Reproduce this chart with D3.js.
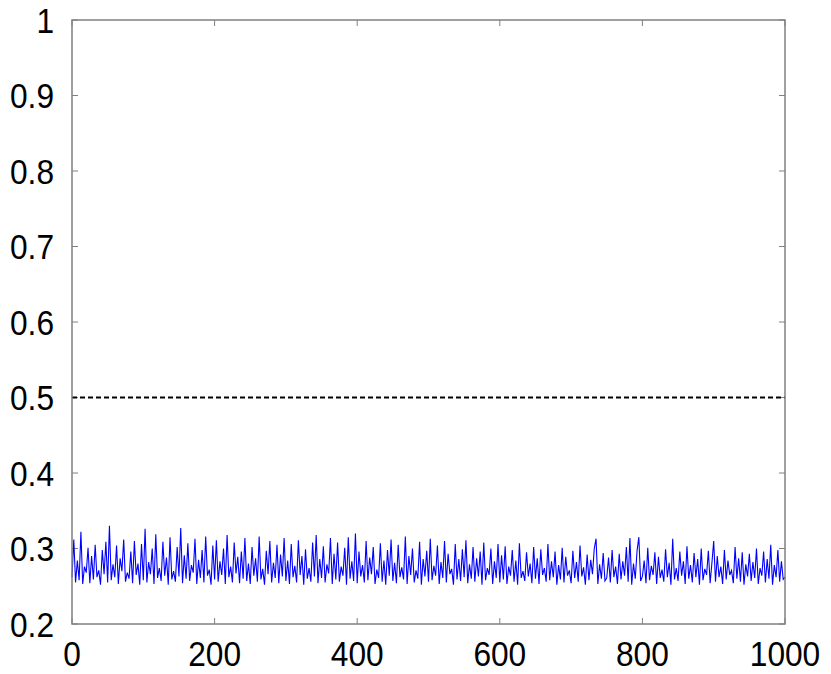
<!DOCTYPE html>
<html>
<head>
<meta charset="utf-8">
<script src="https://cdn.jsdelivr.net/npm/d3@7"></script>
<style>
  html, body { margin: 0; padding: 0; background: #ffffff; }
  svg { display: block; }
</style>
</head>
<body>
<svg id="chart" width="831" height="674"></svg>
<script>
// ---- data ----
const xTicks = [0, 200, 400, 600, 800, 1000];
const yTicks = [0.2, 0.3, 0.4, 0.5, 0.6, 0.7, 0.8, 0.9, 1];
const yTickLabels = ["0.2", "0.3", "0.4", "0.5", "0.6", "0.7", "0.8", "0.9", "1"];
const thresholdValue = 0.5;
const xStep = 2.5; // spacing of the sampled points along x
const seriesValues = [
  0.262, 0.312, 0.255, 0.284, 0.258, 0.322, 0.253, 0.276, 0.268, 0.301, 0.254, 0.29, 0.259, 0.305, 0.262, 0.271, 0.252, 0.298, 0.266, 0.309,
  0.255, 0.33, 0.258, 0.279, 0.262, 0.304, 0.253, 0.287, 0.27, 0.312, 0.256, 0.268, 0.26, 0.296, 0.254, 0.31, 0.265, 0.28, 0.252, 0.306,
  0.258, 0.326, 0.255, 0.282, 0.266, 0.3, 0.253, 0.319, 0.261, 0.274, 0.257, 0.309, 0.264, 0.288, 0.252, 0.315, 0.259, 0.27, 0.256, 0.302,
  0.263, 0.327, 0.254, 0.291, 0.26, 0.307, 0.257, 0.278, 0.268, 0.313, 0.253, 0.285, 0.261, 0.298, 0.255, 0.316, 0.264, 0.272, 0.252, 0.304,
  0.259, 0.311, 0.256, 0.283, 0.265, 0.3, 0.253, 0.318, 0.262, 0.276, 0.255, 0.308, 0.267, 0.289, 0.254, 0.296, 0.26, 0.314, 0.257, 0.28,
  0.253, 0.302, 0.264, 0.287, 0.256, 0.316, 0.259, 0.273, 0.252, 0.297, 0.266, 0.31, 0.255, 0.281, 0.261, 0.305, 0.254, 0.292, 0.263, 0.314,
  0.257, 0.284, 0.253, 0.306, 0.262, 0.277, 0.255, 0.311, 0.265, 0.29, 0.252, 0.299, 0.26, 0.274, 0.256, 0.308, 0.263, 0.318, 0.254, 0.286,
  0.261, 0.303, 0.255, 0.279, 0.267, 0.314, 0.253, 0.293, 0.259, 0.308, 0.256, 0.276, 0.264, 0.301, 0.252, 0.315, 0.26, 0.283, 0.257, 0.32,
  0.254, 0.296, 0.263, 0.278, 0.255, 0.31, 0.258, 0.288, 0.266, 0.302, 0.253, 0.272, 0.261, 0.307, 0.256, 0.284, 0.252, 0.298, 0.264, 0.312,
  0.257, 0.281, 0.254, 0.305, 0.262, 0.275, 0.259, 0.316, 0.253, 0.29, 0.265, 0.3, 0.255, 0.271, 0.26, 0.309, 0.252, 0.286, 0.263, 0.297,
  0.256, 0.313, 0.258, 0.277, 0.264, 0.304, 0.253, 0.282, 0.261, 0.31, 0.255, 0.293, 0.266, 0.273, 0.252, 0.306, 0.259, 0.286, 0.257, 0.299,
  0.262, 0.311, 0.254, 0.279, 0.26, 0.302, 0.256, 0.287, 0.263, 0.296, 0.252, 0.308, 0.258, 0.274, 0.265, 0.3, 0.253, 0.283, 0.261, 0.306,
  0.255, 0.291, 0.259, 0.303, 0.253, 0.276, 0.264, 0.298, 0.256, 0.284, 0.252, 0.307, 0.261, 0.27, 0.257, 0.295, 0.263, 0.28, 0.254, 0.302,
  0.26, 0.287, 0.253, 0.299, 0.265, 0.274, 0.256, 0.306, 0.258, 0.283, 0.262, 0.296, 0.252, 0.278, 0.259, 0.301, 0.255, 0.289, 0.264, 0.271,
  0.254, 0.297, 0.261, 0.282, 0.256, 0.304, 0.263, 0.275, 0.252, 0.292, 0.258, 0.285, 0.266, 0.3, 0.313, 0.253, 0.279, 0.26, 0.294, 0.257,
  0.261, 0.288, 0.255, 0.298, 0.262, 0.276, 0.253, 0.293, 0.259, 0.283, 0.264, 0.302, 0.256, 0.314, 0.252, 0.28, 0.26, 0.297, 0.315, 0.257,
  0.263, 0.284, 0.254, 0.301, 0.258, 0.277, 0.265, 0.295, 0.253, 0.289, 0.261, 0.272, 0.256, 0.299, 0.262, 0.281, 0.252, 0.313, 0.259, 0.274,
  0.257, 0.296, 0.264, 0.283, 0.253, 0.303, 0.26, 0.278, 0.255, 0.294, 0.262, 0.286, 0.252, 0.3, 0.258, 0.273, 0.265, 0.297, 0.254, 0.281,
  0.31, 0.256, 0.29, 0.262, 0.276, 0.253, 0.298, 0.259, 0.284, 0.265, 0.271, 0.254, 0.302, 0.26, 0.287, 0.256, 0.295, 0.252, 0.279, 0.263,
  0.293, 0.257, 0.282, 0.261, 0.3, 0.253, 0.274, 0.264, 0.296, 0.255, 0.286, 0.26, 0.305, 0.252, 0.278, 0.262, 0.298, 0.256, 0.283, 0.259,
  0.262
];

// ---- layout ----
const plot = { left: 72, right: 785, top: 20, bottom: 624 };
const svg = d3.select("#chart");
const fontFamily = "'Liberation Sans', Arial, sans-serif";
const fontSize = 36;
const narrow = 0.88; // horizontal squeeze to match the narrow sans face

const x = d3.scaleLinear().domain([0, 1000]).range([plot.left, plot.right]);
const y = d3.scaleLinear().domain([0.2, 1]).range([plot.bottom, plot.top]);

const axisColor = "#808080";
const tickLen = 6;

// ticks (inside, on all four sides)
const tickG = svg.append("g").attr("stroke", axisColor).attr("stroke-width", 1);
xTicks.forEach(t => {
  tickG.append("line").attr("x1", x(t)).attr("x2", x(t))
    .attr("y1", plot.bottom).attr("y2", plot.bottom - tickLen);
  tickG.append("line").attr("x1", x(t)).attr("x2", x(t))
    .attr("y1", plot.top).attr("y2", plot.top + tickLen);
});
yTicks.forEach(t => {
  tickG.append("line").attr("x1", plot.left).attr("x2", plot.left + tickLen)
    .attr("y1", y(t)).attr("y2", y(t));
  tickG.append("line").attr("x1", plot.right).attr("x2", plot.right - tickLen)
    .attr("y1", y(t)).attr("y2", y(t));
});

// threshold dashed line
svg.append("line")
  .attr("x1", x(0)).attr("x2", x(1000))
  .attr("y1", y(thresholdValue)).attr("y2", y(thresholdValue))
  .attr("stroke", "#000").attr("stroke-width", 2.2)
  .attr("stroke-dasharray", "5,3");

// series line
const line = d3.line()
  .x((d, i) => x(i * xStep))
  .y(d => y(d));
svg.append("path")
  .datum(seriesValues)
  .attr("d", line)
  .attr("fill", "none")
  .attr("stroke", "#0000ff")
  .attr("stroke-width", 1.1)
  .attr("stroke-linejoin", "miter");

// frame
svg.append("rect")
  .attr("x", plot.left).attr("y", plot.top)
  .attr("width", plot.right - plot.left).attr("height", plot.bottom - plot.top)
  .attr("fill", "none").attr("stroke", axisColor).attr("stroke-width", 1.5);

// y labels
svg.append("g").selectAll("text").data(yTicks).join("text")
  .attr("transform", d => `translate(54,${y(d)}) scale(${narrow},1)`)
  .attr("dy", "0.36em")
  .attr("text-anchor", "end")
  .attr("font-family", fontFamily)
  .attr("font-size", fontSize)
  .attr("fill", "#000")
  .text((d, i) => yTickLabels[i]);

// x labels
svg.append("g").selectAll("text").data(xTicks).join("text")
  .attr("transform", d => `translate(${x(d)},${plot.bottom + 42}) scale(${narrow},1)`)
  .attr("text-anchor", "middle")
  .attr("font-family", fontFamily)
  .attr("font-size", fontSize)
  .attr("fill", "#000")
  .text(d => String(d));
</script>
</body>
</html>
